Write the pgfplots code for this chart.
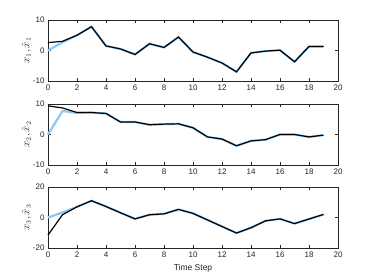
\documentclass[border=0pt]{standalone}
\usepackage{pgfplots}
\pgfplotsset{compat=1.18}
\usepackage{fontspec}
\setmainfont{Liberation Sans}
\definecolor{ax}{gray}{0.15}
\definecolor{lblue}{RGB}{140,200,245}
\pgfplotsset{
  sub/.style={
    scale only axis, width=290pt, height=61pt,
    xmin=0, xmax=20, xtick={0,2,...,20},
    tick align=inside, tick pos=both,
    axis line style={ax, line width=0.5pt},
    major tick length=3pt,
    tick style={ax, line width=0.5pt},
    ticklabel style={font=\fontsize{8}{9}\selectfont, text=ax},
    /pgf/number format/assume math mode=true,
    ylabel style={font=\fontsize{10.5}{11}\selectfont, text=ax, at={(axis description cs:0,0.5)}, anchor=south, yshift=13pt},
    xlabel style={font=\fontsize{8.5}{10}\selectfont, text=ax},
    clip=false,
  },
  est/.style={lblue, line width=2.2pt},
  tru/.style={black, line width=1.2pt},
}
\begin{document}
\begin{tikzpicture}[x=1pt,y=1pt]
\path[use as bounding box, fill=white] (0,0) rectangle (374,280);
\begin{axis}[sub, at={(48pt,199pt)}, anchor=south west, ymin=-10, ymax=10, ytick={-10,0,10},
  ylabel={$x_1, \hat{x}_1$}]
\addplot[est] coordinates {(0,0) (1,2.7) (2,5) (3,7.8) (4,1.5) (5,0.5) (6,-1.3) (7,2.2) (8,1) (9,4.4) (10,-0.5) (11,-2.2) (12,-4.1) (13,-7) (14,-0.8) (15,-0.2) (16,0.1) (17,-3.7) (18,1.3) (19,1.3)};
\addplot[tru] coordinates {(0,2.6) (1,3) (2,5) (3,7.8) (4,1.5) (5,0.5) (6,-1.3) (7,2.2) (8,1) (9,4.4) (10,-0.5) (11,-2.2) (12,-4.1) (13,-7) (14,-0.8) (15,-0.2) (16,0.1) (17,-3.7) (18,1.3) (19,1.3)};
\end{axis}
\begin{axis}[sub, at={(48pt,115pt)}, anchor=south west, ymin=-10, ymax=10, ytick={-10,0,10},
  ylabel={$x_2, \hat{x}_2$}]
\addplot[est] coordinates {(0,0) (1,7.7) (2,7.1) (3,7.2) (4,6.9) (5,4.1) (6,4.1) (7,3.2) (8,3.4) (9,3.5) (10,2.2) (11,-0.8) (12,-1.5) (13,-3.7) (14,-2.1) (15,-1.7) (16,0) (17,0) (18,-0.8) (19,-0.2)};
\addplot[tru] coordinates {(0,9.4) (1,8.7) (2,7.2) (3,7.2) (4,6.9) (5,4.1) (6,4.1) (7,3.2) (8,3.4) (9,3.5) (10,2.2) (11,-0.8) (12,-1.5) (13,-3.7) (14,-2.1) (15,-1.7) (16,0) (17,0) (18,-0.8) (19,-0.2)};
\end{axis}
\begin{axis}[sub, at={(48pt,32pt)}, anchor=south west, ymin=-20, ymax=20, ytick={-20,0,20},
  ylabel={$x_3, \hat{x}_3$}, xlabel={Time Step}]
\addplot[est] coordinates {(0,0) (1,3.3) (2,7) (3,11) (4,7.2) (5,3.1) (6,-0.9) (7,1.8) (8,2.4) (9,5.3) (10,2.7) (11,-1.6) (12,-5.9) (13,-10.2) (14,-6.7) (15,-2.2) (16,-0.9) (17,-4) (18,-1) (19,2)};
\addplot[tru] coordinates {(0,-11.5) (1,1.8) (2,7) (3,11) (4,7.2) (5,3.1) (6,-0.9) (7,1.8) (8,2.4) (9,5.3) (10,2.7) (11,-1.6) (12,-5.9) (13,-10.2) (14,-6.7) (15,-2.2) (16,-0.9) (17,-4) (18,-1) (19,2)};
\end{axis}
\end{tikzpicture}
\end{document}
